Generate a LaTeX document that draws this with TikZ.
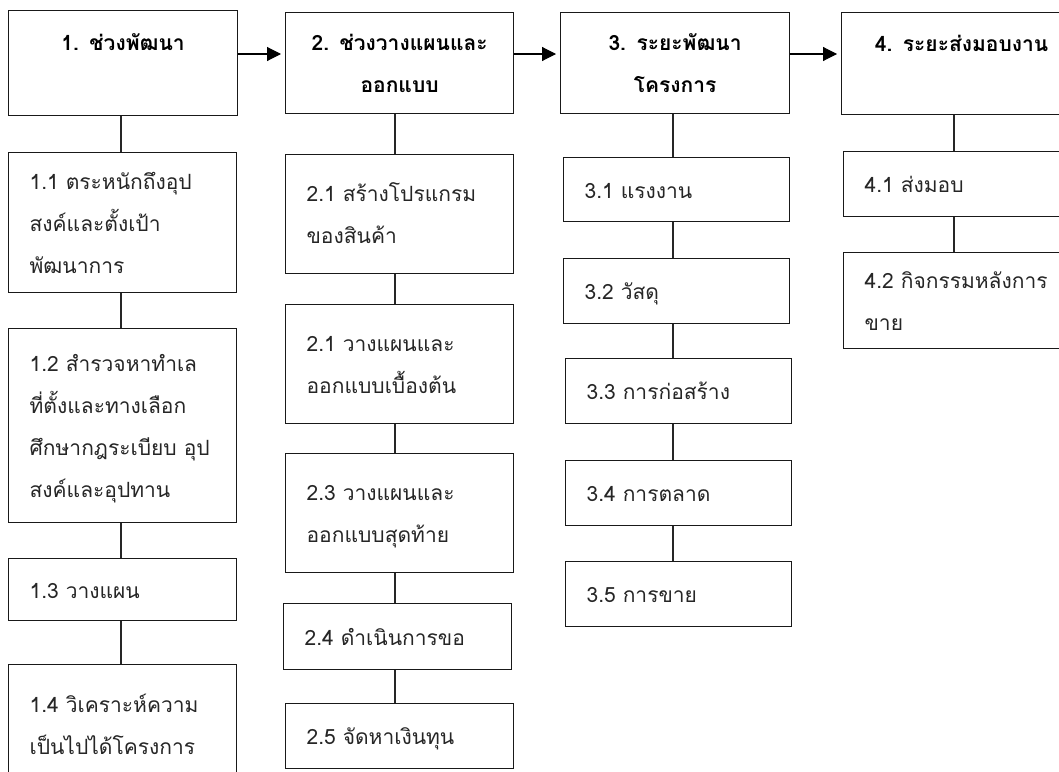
\documentclass[tikz,border=0pt]{standalone}
\usepackage{fontspec}
\setmainfont[Script=Thai]{Loma}
\usetikzlibrary{arrows.meta}
\newcommand\thsub{\fontsize{21pt}{42pt}\selectfont}
\newcommand\thhead{\fontsize{21pt}{42pt}\selectfont\bfseries}
\begin{document}
\begin{tikzpicture}[x=1pt,y=-1pt,
  box/.style={draw=black!90, line width=1.2pt, inner xsep=21pt, inner ysep=0pt,
    align=left, anchor=north west, font=\thsub, text=black!85},
  hbox/.style={draw=black!90, line width=1.2pt, inner xsep=4pt, inner ysep=0pt,
    align=center, anchor=north west, font=\thhead, text=black},
  link/.style={line width=1.1pt, draw=black!85},
  arr/.style={line width=1.1pt, draw=black, -{Triangle[length=14pt,width=14pt]}, shorten >=4pt}]
\useasboundingbox (0,0) rectangle (1059,771);
\fill[white] (0,0) rectangle (1059,771);
\clip (0,0) rectangle (1059,771);

% headers
\node[hbox, text width=221pt, minimum height=105pt] (h1) at (8,10) {\strut 1. ช่วงพัฒนา\\ \strut};
\node[hbox, text width=220pt, minimum height=101pt] (h2) at (285,12) {\strut 2. ช่วงวางแผนและ\\ ออกแบบ\strut};
\node[hbox, text width=221pt, minimum height=101pt] (h3) at (560,12) {\strut 3. ระยะพัฒนา\\ โครงการ\strut};
\node[hbox, text width=232pt, minimum height=102pt] (h4) at (841,12) {\strut 4. ระยะส่งมอบงาน\\ \strut};

% column 1
\node[box, text width=186pt, minimum height=140pt] (s11) at (8,152) {\strut 1.1 ตระหนักถึงอุป\\ สงค์และตั้งเป้า\\ พัฒนาการ\strut};
\node[box, text width=186pt, minimum height=194pt] (s12) at (8,328) {\strut 1.2 สำรวจหาทำเล\\ ที่ตั้งและทางเลือก\\ ศึกษากฎระเบียบ อุป\\ สงค์และอุปทาน\strut};
\node[box, text width=186pt, minimum height=62pt] (s13) at (8,558) {\strut 1.3 วางแผน\strut};
\node[box, text width=186pt, minimum height=120pt] (s14) at (8,664) {\strut 1.4 วิเคราะห์ความ\\ เป็นไปได้โครงการ\strut};

% column 2
\node[box, text width=186pt, minimum height=119pt] (s21) at (285,154) {\strut 2.1 สร้างโปรแกรม\\ ของสินค้า\strut};
\node[box, text width=186pt, minimum height=119pt] (s22) at (285,304) {\strut 2.1 วางแผนและ\\ ออกแบบเบื้องต้น\strut};
\node[box, text width=186pt, minimum height=119pt] (s23) at (285,453) {\strut 2.3 วางแผนและ\\ ออกแบบสุดท้าย\strut};
\node[box, text width=186pt, minimum height=66pt] (s24) at (283,603) {\strut 2.4 ดำเนินการขอ\strut};
\node[box, text width=186pt, minimum height=65pt] (s25) at (285,703) {\strut 2.5 จัดหาเงินทุน\strut};

% column 3
\node[box, text width=184pt, minimum height=64pt] (s31) at (563,157) {\strut 3.1 แรงงาน\strut};
\node[box, text width=184pt, minimum height=65pt] (s32) at (563,258) {\strut 3.2 วัสดุ\strut};
\node[box, text width=184pt, minimum height=65pt] (s33) at (565,358) {\strut 3.3 การก่อสร้าง\strut};
\node[box, text width=184pt, minimum height=65pt] (s34) at (565,460) {\strut 3.4 การตลาด\strut};
\node[box, text width=184pt, minimum height=65pt] (s35) at (565,561) {\strut 3.5 การขาย\strut};

% column 4
\node[box, text width=198pt, minimum height=65pt] (s41) at (843,151) {\strut 4.1 ส่งมอบ\strut};
\node[box, text width=198pt, minimum height=96pt] (s42) at (843,252) {\strut 4.2 กิจกรรมหลังการ\\ ขาย\strut};

% connector columns
\coordinate (c1) at (121,0);
\coordinate (c2) at (395,0);
\coordinate (c3) at (673,0);
\coordinate (c4) at (954,0);
\coordinate (ay) at (0,54);

\draw[link] (h1.south -| c1) -- (s11.north -| c1);
\draw[link] (s11.south -| c1) -- (s12.north -| c1);
\draw[link] (s12.south -| c1) -- (s13.north -| c1);
\draw[link] (s13.south -| c1) -- (s14.north -| c1);

\draw[link] (h2.south -| c2) -- (s21.north -| c2);
\draw[link] (s21.south -| c2) -- (s22.north -| c2);
\draw[link] (s22.south -| c2) -- (s23.north -| c2);
\draw[link] (s23.south -| c2) -- (s24.north -| c2);
\draw[link] (s24.south -| c2) -- (s25.north -| c2);

\draw[link] (h3.south -| c3) -- (s31.north -| c3);
\draw[link] (s31.south -| c3) -- (s32.north -| c3);
\draw[link] (s32.south -| c3) -- (s33.north -| c3);
\draw[link] (s33.south -| c3) -- (s34.north -| c3);
\draw[link] (s34.south -| c3) -- (s35.north -| c3);

\draw[link] (h4.south -| c4) -- (s41.north -| c4);
\draw[link] (s41.south -| c4) -- (s42.north -| c4);

% arrows between phases
\draw[arr] (h1.east |- ay) -- (h2.west |- ay);
\draw[arr] (h2.east |- ay) -- (h3.west |- ay);
\draw[arr] (h3.east |- ay) -- (h4.west |- ay);
\end{tikzpicture}
\end{document}
